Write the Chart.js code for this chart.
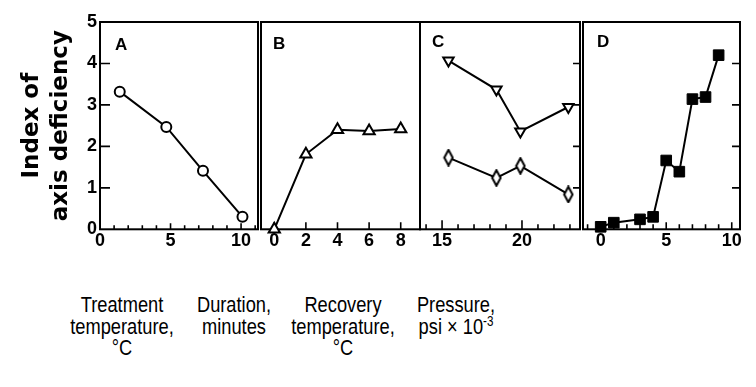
<!DOCTYPE html>
<html><head><meta charset="utf-8">
<script src="https://cdn.jsdelivr.net/npm/chart.js@4.4.0/dist/chart.umd.min.js"></script>
<style>
html,body{margin:0;padding:0;background:#fff;width:756px;height:387px;overflow:hidden;}
#wrap{position:relative;width:756px;height:387px;background:#fff;}
canvas.c{position:absolute;left:0;top:0;}
.lab{position:absolute;font-family:"Liberation Sans",Arial,sans-serif;font-size:22px;line-height:21.5px;color:#000;text-align:center;white-space:nowrap;transform:translateX(-50%) scaleX(0.83);transform-origin:50% 0;}
.sup{font-size:14px;position:relative;top:-8px;}
</style></head><body>
<div id="wrap">
<canvas id="cA" class="c" width="756" height="260"></canvas>
<canvas id="cB" class="c" width="756" height="260"></canvas>
<canvas id="cC" class="c" width="756" height="260"></canvas>
<canvas id="cD" class="c" width="756" height="260"></canvas>
<div class="lab" style="left:122px;top:294px">Treatment<br>temperature,<br>°C</div>
<div class="lab" style="left:234px;top:294px">Duration,<br>minutes</div>
<div class="lab" style="left:343px;top:294px">Recovery<br>temperature,<br>°C</div>
<div class="lab" style="left:456px;top:294px">Pressure,<br>psi × 10<span class="sup">-3</span></div>
</div>
<script>
// ---- data ----
const tempA = [1.4, 4.7, 7.3, 10.1];
const defA  = [3.32, 2.47, 1.41, 0.30];
const durB  = [0, 2, 4, 6, 8];
const defB  = [0, 1.81, 2.40, 2.37, 2.42];
const recC  = [15.4, 18.4, 19.9, 22.9];
const defC1 = [4.07, 3.37, 2.36, 2.95];
const defC2 = [1.73, 1.24, 1.53, 0.84];
const presD = [0, 1, 3, 4, 5, 6, 7, 8, 9];
const defD  = [0.06, 0.16, 0.24, 0.30, 1.66, 1.39, 3.14, 3.19, 4.20];
const yTickValues = [0, 1, 2, 3, 4, 5];
const panelLetters = ['A', 'B', 'C', 'D'];
const yTitle = ['Index of', 'axis deficiency'];

function pts(xs, ys) { return xs.map((x, i) => ({x: x, y: ys[i]})); }

// narrow diamond marker
const diamond = document.createElement('canvas');
diamond.width = 12; diamond.height = 18;
(function(){
  const g = diamond.getContext('2d');
  g.beginPath();
  g.moveTo(6, 1.2); g.lineTo(10.2, 9); g.lineTo(6, 16.8); g.lineTo(1.8, 9); g.closePath();
  g.fillStyle = '#fff'; g.fill();
  g.lineWidth = 2; g.strokeStyle = '#000'; g.stroke();
})();

const tickFont = {family: '"Liberation Sans", Arial, sans-serif', size: 18, weight: 'bold'};
const TOP = 22, BOTTOM = 229.3, CH = 260;

const panelPlugin = {
  id: 'panel',
  beforeDatasetsDraw(chart, args, o) {
    const ctx = chart.ctx, a = chart.chartArea, x = chart.scales.x, y = chart.scales.y;
    ctx.save();
    ctx.strokeStyle = '#000';
    ctx.lineWidth = 2;
    ctx.strokeRect(a.left, a.top, a.right - a.left, a.bottom - a.top);
    ctx.lineWidth = 1.6;
    ctx.beginPath();
    x.ticks.forEach(t => {
      const v = Math.round(t.value * 1000) / 1000;
      const major = Math.abs(v / o.labelStep - Math.round(v / o.labelStep)) < 1e-6;
      const len = major ? o.xMajor : o.xMinor;
      if (len > 0) {
        const px = x.getPixelForValue(v);
        ctx.moveTo(px, a.bottom); ctx.lineTo(px, a.bottom - len);
      }
    });
    yTickValues.forEach(v => {
      if (v <= 0 || v >= 5) return;
      const py = y.getPixelForValue(v);
      if (o.leftLen) { ctx.moveTo(a.left, py); ctx.lineTo(a.left + o.leftLen, py); }
      if (o.rightLen) { ctx.moveTo(a.right, py); ctx.lineTo(a.right - o.rightLen, py); }
    });
    ctx.stroke();
    ctx.fillStyle = '#000';
    ctx.font = 'bold 17px "Liberation Sans", Arial, sans-serif';
    ctx.textBaseline = 'alphabetic';
    ctx.textAlign = 'left';
    ctx.fillText(o.letter, a.left + o.lx, a.top + o.ly);
    ctx.restore();
  }
};

function makeChart(id, p) {
  return new Chart(document.getElementById(id), {
    type: 'scatter',
    data: {datasets: p.datasets},
    options: {
      responsive: false, animation: false, devicePixelRatio: 1,
      layout: {padding: {left: p.left, right: 756 - p.right, top: TOP, bottom: 0}},
      plugins: {legend: {display: false}, tooltip: {enabled: false}, panel: p.panel},
      scales: {
        x: {
          type: 'linear', min: p.xmin, max: p.xmax,
          grid: {display: false, drawTicks: false}, border: {display: false},
          ticks: {
            stepSize: p.step, includeBounds: false, autoSkip: false, maxRotation: 0, minRotation: 0,
            maxTicksLimit: 100, padding: 1, color: '#000', font: tickFont,
            callback: v => (Math.abs(v / p.panel.labelStep - Math.round(v / p.panel.labelStep)) < 1e-6) ? String(Math.round(v)) : ''
          },
          afterFit: s => { s.height = CH - BOTTOM; }
        },
        y: {
          type: 'linear', min: 0, max: 5, display: p.showY,
          grid: {display: false, drawTicks: false}, border: {display: false},
          ticks: {stepSize: 1, padding: 3, color: '#000', font: tickFont},
          title: {display: p.showY, text: yTitle, color: '#000',
                  font: {family: '"DejaVu Sans", sans-serif', size: 23, weight: 'bold', lineHeight: 1.26},
                  padding: {top: 18, bottom: 0}},
          afterFit: s => { s.width = p.showY ? 100 : 0; }
        }
      }
    },
    plugins: [panelPlugin]
  });
}

const lineBase = {showLine: true, borderColor: '#000', borderWidth: 2, pointBorderColor: '#000',
                  pointBorderWidth: 2, pointBackgroundColor: '#fff', tension: 0, clip: false};

makeChart('cA', {
  left: 0, right: 258, xmin: 0, xmax: 11.2, step: 1, showY: true,
  datasets: [Object.assign({}, lineBase, {data: pts(tempA, defA), pointStyle: 'circle', pointRadius: 5})],
  panel: {letter: panelLetters[0], lx: 15, ly: 28, labelStep: 5, xMajor: 6, xMinor: 4, leftLen: 10, rightLen: 0}
});
makeChart('cB', {
  left: 261, right: 420, xmin: -0.84, xmax: 9.22, step: 2, showY: false,
  datasets: [Object.assign({}, lineBase, {data: pts(durB, defB), pointStyle: 'triangle', pointRadius: 6.5})],
  panel: {letter: panelLetters[1], lx: 12, ly: 27, labelStep: 2, xMajor: 7, xMinor: 0, leftLen: 0, rightLen: 0}
});
makeChart('cC', {
  left: 420, right: 580, xmin: 13.62, xmax: 23.63, step: 1, showY: false,
  datasets: [
    Object.assign({}, lineBase, {data: pts(recC, defC1), pointStyle: 'triangle', rotation: 180, pointRadius: 6}),
    Object.assign({}, lineBase, {data: pts(recC, defC2), pointStyle: diamond, pointRadius: 6})
  ],
  panel: {letter: panelLetters[2], lx: 12, ly: 25, labelStep: 5, xMajor: 9, xMinor: 5, leftLen: 0, rightLen: 7}
});
makeChart('cD', {
  left: 583, right: 740, xmin: -1.35, xmax: 10.63, step: 1, showY: false,
  datasets: [Object.assign({}, lineBase, {data: pts(presD, defD), pointStyle: 'rect', pointRadius: 7.5,
                                          pointBackgroundColor: '#000', pointBorderWidth: 1})],
  panel: {letter: panelLetters[3], lx: 14, ly: 25, labelStep: 5, xMajor: 7, xMinor: 5, leftLen: 0, rightLen: 8}
});
</script>
</body></html>
